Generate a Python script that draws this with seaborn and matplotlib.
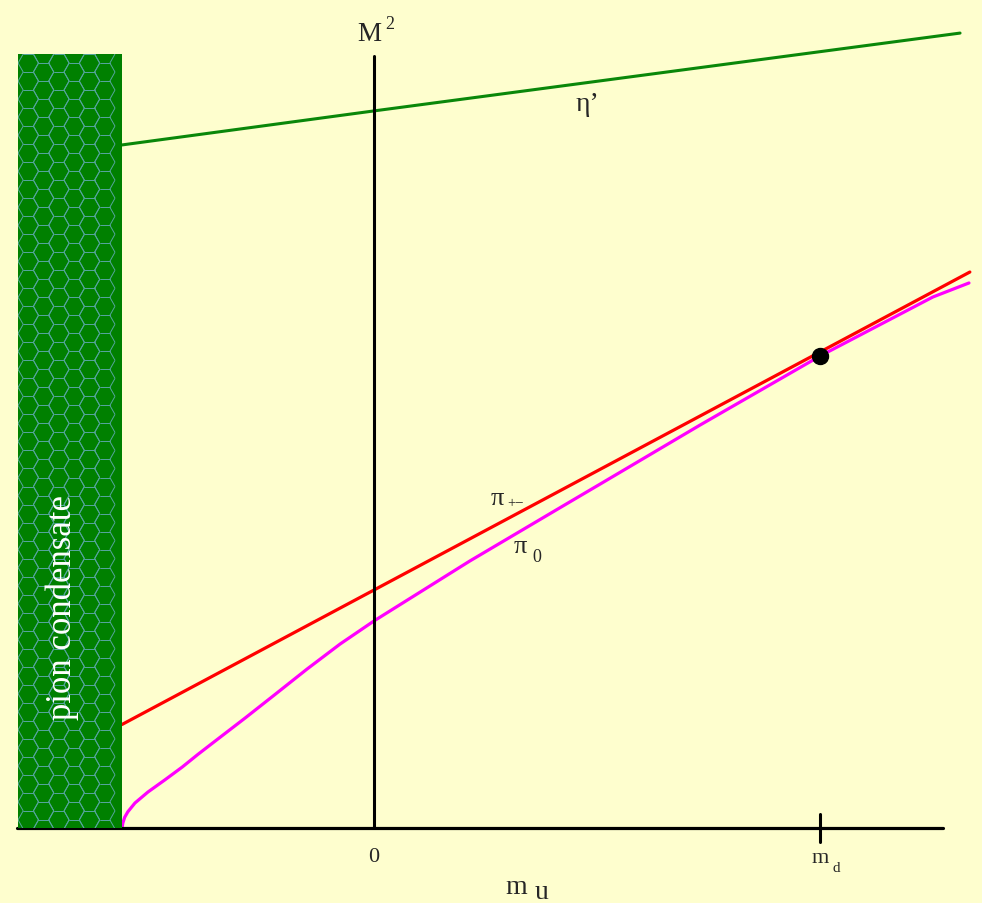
import numpy as np
import matplotlib
matplotlib.use("Agg")
import matplotlib.pyplot as plt
from matplotlib.patches import Rectangle
from matplotlib.collections import LineCollection
import seaborn as sns

# ---- data: squared meson masses versus the up-quark mass (m_d = 1) ----
m_d = 1.0
condensate_edge = -0.565          # left of this the pion condenses

pi_charged_mu = [-0.565, 1.336]
pi_charged_M2 = [0.435, 2.336]

pi0_mu = [-0.565, -0.563, -0.559, -0.552, -0.536, -0.507, -0.469, -0.430,
          -0.395, -0.357, -0.289, -0.226, -0.150, -0.076, 0.0, 0.215, 0.439,
          0.507, 0.731, 1.0, 1.253, 1.334]
pi0_M2 = [0.0, 0.022, 0.045, 0.068, 0.105, 0.151, 0.202, 0.256,
          0.309, 0.364, 0.462, 0.555, 0.668, 0.773, 0.870, 1.122, 1.370,
          1.445, 1.693, 1.983, 2.231, 2.290]

eta_mu = [-0.565, 0.0, 1.314]
eta_M2 = [2.870, 3.013, 3.340]

degenerate_point = (1.0, 1.983)   # m_u = m_d

x_tick_values = [0.0, m_d]

# ---- styling ----
sns.set_style("white")
plt.rcParams["font.family"] = ["Liberation Serif", "DejaVu Serif"]
bg = "#FEFECE"
green = "#008000"

fig = plt.figure(figsize=(9.82, 9.04), dpi=100, facecolor=bg)
ax = fig.add_axes([0, 0, 1, 1])
ax.set_facecolor(bg)
PX_X, PX_Y = 446.0, 238.0          # pixels per unit on each axis
ax.set_xlim(-374 / PX_X, 608 / PX_X)
ax.set_ylim(-75 / PX_Y, 829 / PX_Y)
ax.axis("off")

# axes drawn as lines through the origin
ax.plot([-0.80, 1.276], [0, 0], color="black", lw=2.3, zorder=3)
ax.plot([0, 0], [0, 3.244], color="black", lw=2.2, zorder=3)
ax.plot([m_d, m_d], [-0.059, 0.059], color="black", lw=2.2, zorder=3)

# pion-condensate region with honeycomb texture
x0, x1 = -0.798, condensate_edge
y_top = 3.252
region = Rectangle((x0, 0), x1 - x0, y_top, facecolor=green,
                   edgecolor="none", zorder=4)
ax.add_patch(region)

s = 10.2                          # hexagon side in pixels
h = np.sqrt(3) * s * 1.02
left_px = 374 + x0 * PX_X
top_px = 829 - y_top * PX_Y
segs = []
for i in range(6):
    cx = left_px + s + 1.5 * s * i
    for j in range(-1, 46):
        cy = top_px + h / 2 + h * j + (h / 2 if i % 2 else 0)
        verts = [(cx - s, cy), (cx - s / 2, cy - h / 2), (cx + s / 2, cy - h / 2),
                 (cx + s, cy), (cx + s / 2, cy + h / 2), (cx - s / 2, cy + h / 2)]
        verts = [((px - 374) / PX_X, (829 - py) / PX_Y) for px, py in verts]
        for k in range(6):
            segs.append([verts[k], verts[(k + 1) % 6]])
hexes = LineCollection(segs, colors="#55a59c", linewidths=0.7, zorder=5)
ax.add_collection(hexes)
hexes.set_clip_path(region)

ax.text(-0.700, 0.929, "pion condensate", rotation=90, color="white",
        fontsize=25, ha="center", va="center", zorder=6)

# meson curves
sns.lineplot(x=eta_mu, y=eta_M2, ax=ax, color="#0a870a", lw=2.2,
             estimator=None, sort=False, zorder=2)
sns.lineplot(x=pi_charged_mu, y=pi_charged_M2, ax=ax, color="#ff0000", lw=2.3,
             estimator=None, sort=False, zorder=2)
sns.lineplot(x=pi0_mu, y=pi0_M2, ax=ax, color="#ff00ff", lw=2.3,
             estimator=None, sort=False, zorder=2)
ax.plot(*degenerate_point, "o", color="black", markersize=11.5, zorder=7)

# labels
ax.text(-0.0381, 3.311, "M", fontsize=19.5, ha="left", va="baseline")
ax.text(0.0247, 3.361, "2", fontsize=13, ha="left", va="baseline")

ax.text(x_tick_values[0], -0.139, "0", fontsize=16, ha="center", va="baseline")
ax.text(0.982, -0.143, "m", fontsize=16, ha="left", va="baseline")
ax.text(1.029, -0.181, "d", fontsize=11, ha="left", va="baseline")

ax.text(0.2937, -0.273, "m", fontsize=20, ha="left", va="baseline")
ax.text(0.361, -0.293, "u", fontsize=20, ha="left", va="baseline")

ax.text(0.262, 1.361, "π", fontsize=19, ha="left", va="baseline")
ax.text(0.298, 1.353, "+−", fontsize=10.5, ha="left", va="baseline")
ax.text(0.312, 1.160, "π", fontsize=19, ha="left", va="baseline")
ax.text(0.356, 1.122, "0", fontsize=13, ha="left", va="baseline")
ax.text(0.453, 3.017, "η’", fontsize=20, ha="left", va="baseline")

fig.savefig("out.png", dpi=100, facecolor=bg)
